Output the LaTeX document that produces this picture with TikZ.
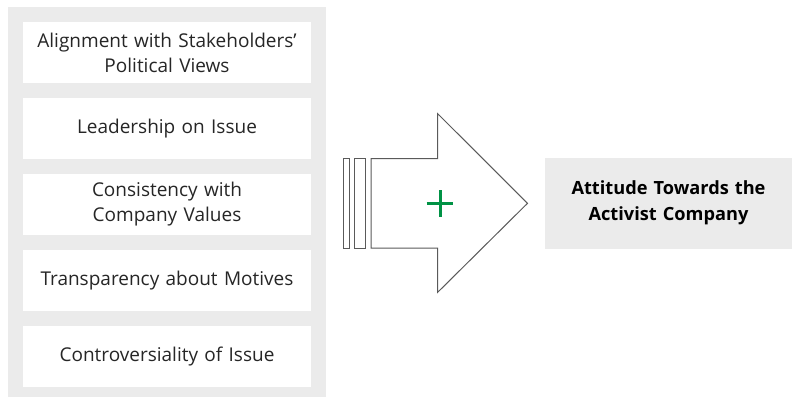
\documentclass[tikz,border=0pt]{standalone}
\usepackage{fontspec}
\setmainfont{Open Sans}
\usetikzlibrary{positioning}

\definecolor{panelgray}{HTML}{EBEBEB}
\definecolor{plusgreen}{HTML}{009245}
\definecolor{linegray}{HTML}{5A5A5A}

\begin{document}
\begin{tikzpicture}[x=1pt,y=-1pt,node distance=14.5pt,
    factor/.style={fill=white,minimum width=288pt,minimum height=61pt,
        text width=284pt,align=center,inner sep=0pt,
        font=\fontsize{19}{25}\selectfont\color{black!85}},
    outcome/.style={fill=panelgray,minimum width=247pt,minimum height=91pt,
        text width=240pt,align=center,inner sep=0pt,
        font=\fontsize{18.2}{26}\selectfont\bfseries},
    outline/.style={draw=linegray,line width=1pt,fill=white}]

    \useasboundingbox (0,0) rectangle (793,397);

    \fill[panelgray] (8,7) rectangle (326,397);

    \node[factor] (align) at (167,52.5) {Alignment with Stakeholders'\\Political Views};

    \node[factor] (lead) [below=of align] {Leadership on Issue};

    \node[factor] (consist) [below=of lead] {Consistency with\\Company Values};

    \node[factor] (transp) [below=of consist] {Transparency about Motives};

    \node[factor] (contro) [below=of transp] {Controversiality of Issue};

    % big arrow with the two bars behind it
    \draw[outline] (343,158.5) rectangle (349,248);
    \draw[outline] (354.5,158.5) rectangle (365.5,248);
    \draw[outline] (371,158.5) -- (437.5,158.5) -- (437.5,113.5) -- (527.5,203.3)
        -- (437.5,292.5) -- (437.5,248) -- (371,248) -- cycle;

    \draw[plusgreen,line width=3pt] (440,190) -- (440,216.7) (426.7,203.3) -- (453.3,203.3);

    \node[outcome] (attitude) at (668.5,203) {Attitude Towards the\\Activist Company};

\end{tikzpicture}
\end{document}
